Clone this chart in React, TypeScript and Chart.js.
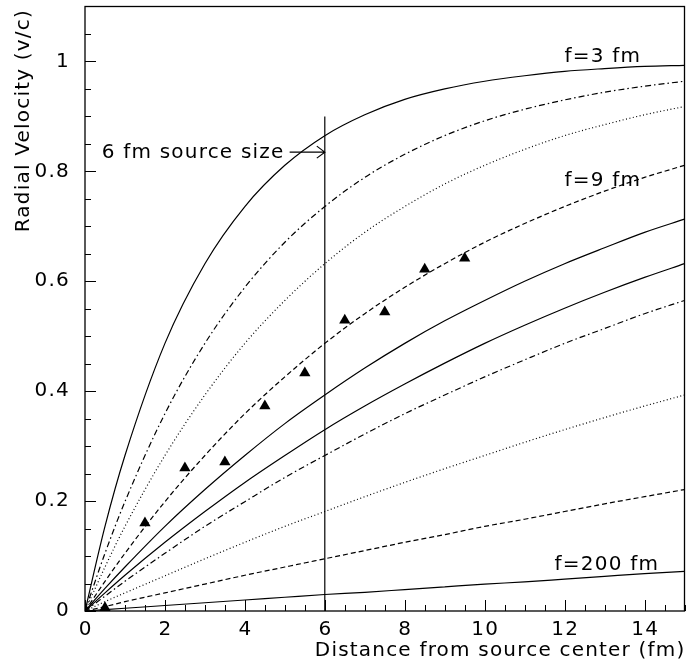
import React, { useEffect, useRef } from "react";
import { Chart, registerables } from "chart.js";

Chart.register(...registerables);

// ---- data ----
const xGrid = [0, 0.5, 1, 2, 3, 4, 5, 6, 7, 8, 9, 10, 11, 12, 13, 14, 15];
const curveF3 = [0, 0.154, 0.283, 0.487, 0.632, 0.736, 0.811, 0.865, 0.903, 0.931, 0.95, 0.964, 0.974, 0.982, 0.987, 0.991, 0.993];
const curveF4p5 = [0, 0.105, 0.199, 0.359, 0.487, 0.589, 0.671, 0.736, 0.789, 0.831, 0.865, 0.892, 0.913, 0.93, 0.944, 0.955, 0.964];
const curveF6 = [0, 0.08, 0.154, 0.283, 0.393, 0.487, 0.565, 0.632, 0.689, 0.736, 0.777, 0.811, 0.84, 0.865, 0.885, 0.903, 0.918];
const curveF9 = [0, 0.054, 0.105, 0.199, 0.283, 0.359, 0.426, 0.487, 0.541, 0.589, 0.632, 0.671, 0.705, 0.736, 0.764, 0.789, 0.811];
const curveF12 = [0, 0.041, 0.08, 0.154, 0.221, 0.283, 0.341, 0.393, 0.442, 0.487, 0.528, 0.565, 0.6, 0.632, 0.661, 0.689, 0.713];
const curveF15 = [0, 0.033, 0.065, 0.125, 0.181, 0.234, 0.283, 0.33, 0.373, 0.413, 0.451, 0.487, 0.52, 0.551, 0.58, 0.607, 0.632];
const curveF18 = [0, 0.027, 0.054, 0.105, 0.154, 0.199, 0.243, 0.283, 0.322, 0.359, 0.393, 0.426, 0.457, 0.487, 0.514, 0.541, 0.565];
const curveF30 = [0, 0.017, 0.033, 0.064, 0.095, 0.125, 0.154, 0.181, 0.208, 0.234, 0.259, 0.283, 0.307, 0.33, 0.352, 0.373, 0.393];
const curveF60 = [0, 0.008, 0.017, 0.033, 0.049, 0.065, 0.08, 0.095, 0.11, 0.125, 0.139, 0.154, 0.167, 0.181, 0.195, 0.208, 0.221];
const curveF200 = [0, 0.0025, 0.005, 0.01, 0.015, 0.02, 0.025, 0.03, 0.034, 0.039, 0.044, 0.049, 0.053, 0.058, 0.063, 0.068, 0.072];

const pointsX = [0.5, 1.5, 2.5, 3.5, 4.5, 5.5, 6.5, 7.5, 8.5, 9.5];
const pointsY = [0.006, 0.16, 0.26, 0.271, 0.373, 0.433, 0.529, 0.544, 0.622, 0.642];

const sourceLineX = [6, 6];
const sourceLineY = [0, 0.9];

const xTickValues = [0, 2, 4, 6, 8, 10, 12, 14];
const xTickLabels = ["0", "2", "4", "6", "8", "10", "12", "14"];
const yTickValues = [0, 0.2, 0.4, 0.6, 0.8, 1];
const yTickLabels = ["0", "0.2", "0.4", "0.6", "0.8", "1"];

const xTitle = "Distance from source center (fm)";
const yTitle = "Radial Velocity (v/c)";
const labelF3 = "f=3 fm";
const labelF9 = "f=9 fm";
const labelF200 = "f=200 fm";
const labelSource = "6 fm source size";

const FONT = "'DejaVu Sans', sans-serif";

const toXY = (ys: number[]) => ys.map((y, i) => ({ x: xGrid[i], y }));

export default function App() {
  const ref = useRef<HTMLCanvasElement | null>(null);

  useEffect(() => {
    const canvas = ref.current;
    if (!canvas) return;
    document.body.style.margin = "0";

    const curve = (data: number[], dash: number[]) => ({
      type: "line" as const,
      data: toXY(data),
      borderColor: "#000",
      borderWidth: 1.2,
      borderDash: dash,
      pointRadius: 0,
      fill: false,
      cubicInterpolationMode: "monotone" as const,
    });

    const DASH = [5, 3];
    const DOT = [1, 2.5];
    const DASHDOT = [6, 3, 1.5, 3];

    const overlay = {
      id: "overlay",
      afterDraw(chart: any) {
        const { ctx, chartArea: a, scales } = chart;
        const xs = scales.x;
        const ys = scales.y;
        ctx.save();
        ctx.strokeStyle = "#000";
        ctx.fillStyle = "#000";
        // frame
        ctx.lineWidth = 1.3;
        ctx.strokeRect(a.left, a.top, a.right - a.left, a.bottom - a.top);
        // ticks
        ctx.lineWidth = 1;
        ctx.beginPath();
        for (let v = 0; v <= 1.1001; v += 0.05) {
          const p = Math.round(ys.getPixelForValue(v)) + 0.5;
          const major = Math.abs(v / 0.2 - Math.round(v / 0.2)) < 1e-6;
          ctx.moveTo(a.left, p);
          ctx.lineTo(a.left + (major ? 11 : 6), p);
        }
        for (let v = 0; v <= 15.001; v += 0.5) {
          const p = Math.round(xs.getPixelForValue(v)) + 0.5;
          const major = Math.abs(v / 2 - Math.round(v / 2)) < 1e-6;
          ctx.moveTo(p, a.bottom);
          ctx.lineTo(p, a.bottom - (major ? 11 : 6));
        }
        ctx.stroke();

        // arrow
        const ay = ys.getPixelForValue(0.835);
        const ax0 = xs.getPixelForValue(5.12);
        const ax1 = xs.getPixelForValue(6);
        ctx.lineWidth = 1.2;
        ctx.beginPath();
        ctx.moveTo(ax0, ay);
        ctx.lineTo(ax1, ay);
        ctx.moveTo(ax1 - 8, ay - 6);
        ctx.lineTo(ax1, ay);
        ctx.lineTo(ax1 - 8, ay + 6);
        ctx.stroke();

        // text
        ctx.font = `20px ${FONT}`;
        (ctx as any).letterSpacing = "1.2px";
        ctx.textBaseline = "middle";

        // tick labels
        ctx.textAlign = "center";
        xTickValues.forEach((v, i) => {
          ctx.fillText(xTickLabels[i], xs.getPixelForValue(v) + 0.6, 630);
        });
        ctx.textAlign = "right";
        yTickValues.forEach((v, i) => {
          ctx.fillText(yTickLabels[i], 70, ys.getPixelForValue(v));
        });

        ctx.textAlign = "left";
        ctx.fillText(labelF3, xs.getPixelForValue(12.0), ys.getPixelForValue(1.009));
        ctx.fillText(labelF9, xs.getPixelForValue(12.0), ys.getPixelForValue(0.782));
        ctx.fillText(labelF200, xs.getPixelForValue(11.75), ys.getPixelForValue(0.084));
        ctx.fillText(labelSource, xs.getPixelForValue(0.42), ys.getPixelForValue(0.833));

        // axis titles
        ctx.textAlign = "right";
        ctx.fillText(xTitle, a.right + 1, 651);
        ctx.translate(24, 9);
        ctx.rotate(-Math.PI / 2);
        ctx.textAlign = "right";
        ctx.fillText(yTitle, 0, 0);
        ctx.restore();
      },
    };

    const fixPad = (s: any) => {
      s.paddingTop = 0;
      s.paddingBottom = 0;
      s.paddingLeft = 0;
      s.paddingRight = 0;
    };

    const chart = new Chart(canvas, {
      type: "line",
      data: {
        datasets: [
          curve(curveF3, []),
          curve(curveF4p5, DASHDOT),
          curve(curveF6, DOT),
          curve(curveF9, DASH),
          curve(curveF12, []),
          curve(curveF15, []),
          curve(curveF18, DASHDOT),
          curve(curveF30, DOT),
          curve(curveF60, DASH),
          curve(curveF200, []),
          {
            type: "line",
            data: sourceLineX.map((x, i) => ({ x, y: sourceLineY[i] })),
            borderColor: "#000",
            borderWidth: 1.2,
            pointRadius: 0,
            fill: false,
          },
          {
            type: "scatter",
            data: pointsX.map((x, i) => ({ x, y: pointsY[i] })),
            pointStyle: "triangle",
            pointRadius: 6.5,
            backgroundColor: "#000",
            borderColor: "#000",
            borderWidth: 0,
            showLine: false,
          },
        ] as any,
      },
      options: {
        responsive: false,
        animation: false,
        events: [],
        layout: { padding: { top: 6, right: 5, left: 0, bottom: 0 } },
        plugins: { legend: { display: false }, tooltip: { enabled: false } },
        scales: {
          x: {
            type: "linear",
            min: 0,
            max: 15,
            grid: { display: false, drawTicks: false },
            border: { display: false },
            afterBuildTicks: (s: any) => {
              s.ticks = xTickValues.map((value) => ({ value }));
            },
            afterFit: (s: any) => {
              s.height = 58;
              fixPad(s);
            },
            ticks: { display: false, padding: 0 },
          },
          y: {
            type: "linear",
            min: 0,
            max: 1.1,
            grid: { display: false, drawTicks: false },
            border: { display: false },
            afterBuildTicks: (s: any) => {
              s.ticks = yTickValues.map((value) => ({ value }));
            },
            afterFit: (s: any) => {
              s.width = 85;
              fixPad(s);
            },
            ticks: { display: false, padding: 0 },
          },
        },
      } as any,
      plugins: [overlay],
    });
    return () => chart.destroy();
  }, []);

  return (
    <div style={{ position: "fixed", left: 0, top: 0, width: 691, height: 669, background: "#fff" }}>
      <canvas ref={ref} width={691} height={669} style={{ width: 691, height: 669, display: "block" }} />
    </div>
  );
}
